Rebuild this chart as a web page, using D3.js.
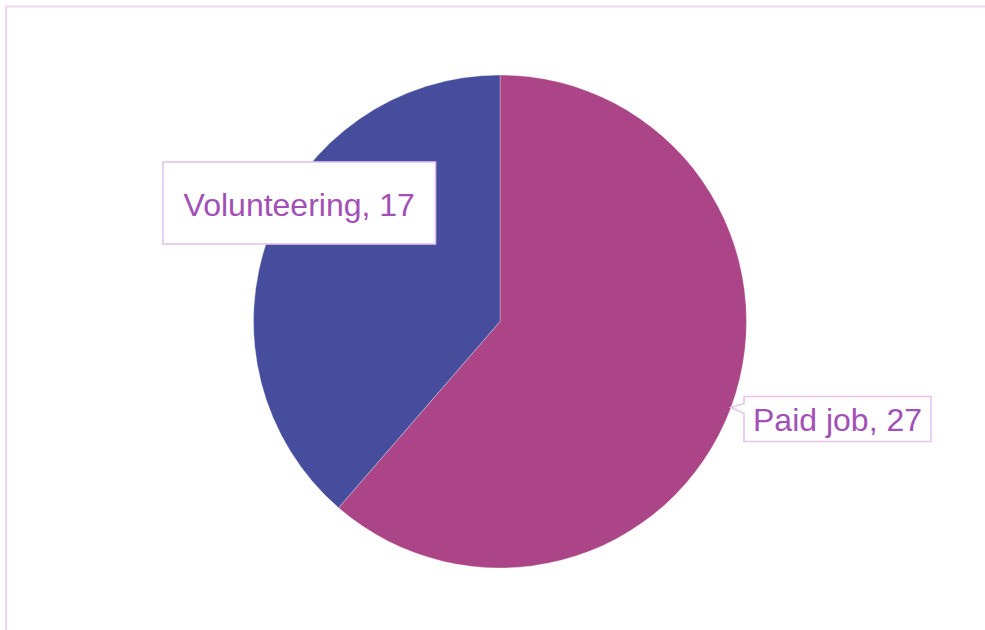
<!DOCTYPE html>
<html>
<head>
<meta charset="utf-8">
<script src="https://cdn.jsdelivr.net/npm/d3@7"></script>
<style>
  html, body { margin: 0; padding: 0; background: #ffffff; }
  svg { display: block; }
  text { font-family: "Liberation Sans", Arial, sans-serif; }
</style>
</head>
<body>
<svg id="chart" width="985" height="630"></svg>
<script>
// Time spent by respondents: paid work vs. volunteering
const categories = ["Paid job", "Volunteering"];
const values = [27, 17];
const colors = ["#ac4587", "#464d9c"];

const width = 985, height = 630;
const cx = 500, cy = 321.5, radius = 246.5;

const svg = d3.select("#chart");

// Plot-area frame (extends past the right and bottom edges)
svg.append("rect")
  .attr("x", 6).attr("y", 6.5)
  .attr("width", 1000).attr("height", 700)
  .attr("fill", "none")
  .attr("stroke", "#efd6f0")
  .attr("stroke-width", 2);

const data = categories.map((c, i) => ({ name: c, value: values[i], color: colors[i] }));

const pie = d3.pie().value(d => d.value).sort(null).startAngle(0).endAngle(2 * Math.PI);
const arc = d3.arc().innerRadius(0).outerRadius(radius);
const arcs = pie(data);

const g = svg.append("g").attr("transform", `translate(${cx},${cy})`);
g.selectAll("path.slice")
  .data(arcs)
  .join("path")
  .attr("class", "slice")
  .attr("d", arc)
  .attr("fill", d => d.data.color)
  .attr("stroke", "#ffffff")
  .attr("stroke-width", 0.6)
  .attr("stroke-opacity", 0.5);

// Data-label boxes: [left, top, width, height] and an optional callout pointer
const labelBoxes = {
  "Paid job": { x: 744, y: 396.5, w: 187, h: 45, pointer: true, dy: 11.5 },
  "Volunteering": { x: 163, y: 162, w: 272.5, h: 82, dy: 12.5 }
};

const labelColor = "#a24fb6";
const boxStroke = "#e3c3ec";

arcs.forEach(a => {
  const b = labelBoxes[a.data.name];
  const lg = svg.append("g");
  if (b.pointer) {
    // box outline with a small callout notch on the left edge
    const tipX = 731, tipY = 407.5;
    const p = d3.path();
    p.moveTo(b.x, b.y);
    p.lineTo(b.x + b.w, b.y);
    p.lineTo(b.x + b.w, b.y + b.h);
    p.lineTo(b.x, b.y + b.h);
    p.lineTo(b.x, b.y + 17);
    p.lineTo(tipX, tipY);
    p.lineTo(b.x, b.y + 7);
    p.closePath();
    lg.append("path")
      .attr("d", p.toString())
      .attr("fill", "#ffffff")
      .attr("stroke", boxStroke)
      .attr("stroke-width", 1.6);
  } else {
    lg.append("rect")
      .attr("x", b.x).attr("y", b.y)
      .attr("width", b.w).attr("height", b.h)
      .attr("fill", "#ffffff")
      .attr("stroke", boxStroke)
      .attr("stroke-width", 1.6);
  }
  lg.append("text")
    .attr("x", b.x + b.w / 2)
    .attr("y", b.y + b.h / 2 + b.dy)
    .attr("text-anchor", "middle")
    .attr("font-size", 32)
    .attr("fill", labelColor)
    .text(`${a.data.name}, ${a.data.value}`);
});
</script>
</body>
</html>
